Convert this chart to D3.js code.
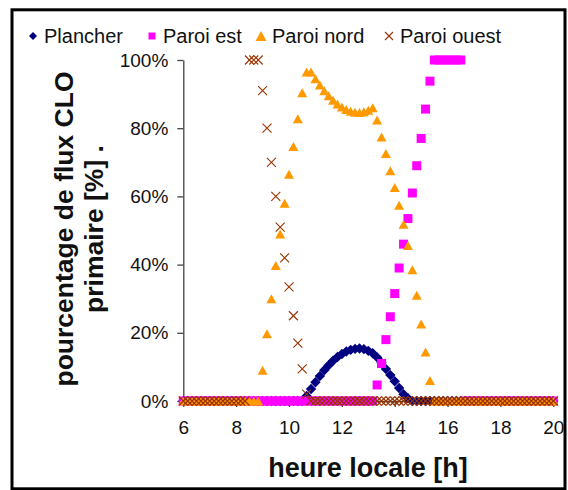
<!DOCTYPE html>
<head>
  <meta charset="utf-8">
  <script src="https://d3js.org/d3.v7.min.js"></script>
  <style>
    body { margin:0; background:#fff; }
    text { font-family: "Liberation Sans", Arial, sans-serif; fill:#111; }
  </style>
</head>
<body>
<script>
// one reading every 10 minutes, from 6h to 20h (85 readings)
const hours = d3.range(85).map(i => 6 + i / 6);

const plancher = [
  0,0,0,0,0,0,0,0,0,0, 0,0,0,0,0,0,0,0,0,0, 0,0,0,0,0,0,0,0,
  1.5,3.5,5.5,7.3,9.0,10.5,11.8,12.9,13.8,14.5,15.0,15.3,15.4,15.2,14.7,14.0,
  12.8,11.2,9.4,7.6,5.8,3.8,2.0,0.8,
  0,0,0,0,0,0,0,0,0,0, 0,0,0,0,0,0,0,0,0,0, 0,0,0,0,0,0,0,0,0,0, 0,0,0
];
const paroiEst = [
  0,0,0,0,0,0,0,0,0,0, 0,0,0,0,0,0,0,0,0,0, 0,0,0,0,0,0,0,0,0,0,
  0,0,0,0,0,0,0,0,0,0, 0,0,0,0,
  4.7,11,18,24.7,31.5,39,46,53.5,61,69,77,85.6,93.8,
  100,100,100,100,100,100,100,
  0,0,0,0,0,0,0,0,0,0, 0,0,0,0,0,0,0,0,0,0, 0
];
const paroiNord = [
  0,0,0,0,0,0,0,0,0,0, 0,0,0,0,0,0,0,0,
  9,19.7,30,39.7,49,58,66.5,74.6,82.8,90.4,96.5,
  96.5,94.5,92.7,91.0,89.5,88.2,87.1,86.2,85.5,85.0,84.7,84.6,84.8,85.3,86.0,
  82.4,77.4,72.6,67.5,62.6,57.4,51.8,45.6,38.5,31,22.6,14.4,6,
  0,0,0,0,0,0,0,0,0,0, 0,0,0,0,0,0,0,0,0,0, 0,0,0,0,0,0,0,0
];
const paroiOuest = [
  0,0,0,0,0,0,0,0,0,0, 0,0,0,0,0,
  100,100,100,
  91,80,70,60,51,42,33.5,25,17,9.4,2,
  0,0,0,0,0,0,0,0,0,0, 0,0,0,0,0,0,0,0,0,0, 0,0,0,0,0,0,0,0,0,0,
  0,0,0,0,0,0,0,0,0,0, 0,0,0,0,0,0,0,0,0,0, 0,0,0,0,0,0
];

const seriesNames = ["Plancher", "Paroi est", "Paroi nord", "Paroi ouest"];
const xTicks = [6, 8, 10, 12, 14, 16, 18, 20];
const yTicks = [0, 20, 40, 60, 80, 100];

const W = 568, H = 490;
const x = d3.scaleLinear().domain([6, 20]).range([183.3, 553.3]);
const y = d3.scaleLinear().domain([0, 100]).range([401, 60]);

const svg = d3.select('body').append('svg')
    .attr('width', W)
    .attr('height', H);

svg.append('rect')
    .attr('x', 12).attr('y', 9.8)
    .attr('width', 553).attr('height', 479)
    .attr('fill', 'none').attr('stroke', '#000').attr('stroke-width', 3);

// marker shapes
const shapes = {
  diamond: r => `M0,${-r}L${r},0L0,${r}L${-r},0Z`,
  square: r => `M${-r},${-r}H${r}V${r}H${-r}Z`,
  triangle: r => `M0,${-r}L${r + 0.5},${r}L${-r - 0.5},${r}Z`,
  cross: r => `M${-r},${-r}L${r},${r}M${-r},${r}L${r},${-r}`
};
const styles = [
  { shape: 'diamond', r: 5.2, fill: '#000080', stroke: 'none' },
  { shape: 'square', r: 4.5, fill: '#ff00ff', stroke: 'none' },
  { shape: 'triangle', r: 4.5, fill: '#ff9900', stroke: 'none' },
  { shape: 'cross', r: 4.5, fill: 'none', stroke: '#993300' }
];
const allSeries = [plancher, paroiEst, paroiNord, paroiOuest];

// axes
const yAxis = svg.append('g')
    .attr('transform', `translate(${x(6)},0)`)
    .call(d3.axisLeft(y).tickValues(yTicks).tickFormat(d => d + '%')
      .tickSize(6).tickSizeOuter(0).tickPadding(9));
const xAxis = svg.append('g')
    .attr('transform', `translate(0,${y(0)})`)
    .call(d3.axisBottom(x).tickValues(xTicks)
      .tickSize(6).tickSizeOuter(0).tickPadding(14));
[xAxis, yAxis].forEach(a => {
  a.selectAll('path, line').attr('stroke', '#444').attr('stroke-width', 1.3);
  a.selectAll('text').attr('font-size', 19)
    .attr('font-family', '"Liberation Sans", Arial, sans-serif').attr('fill', '#111');
});

// series
allSeries.forEach((vals, k) => {
  const st = styles[k];
  svg.append('g').selectAll('path')
    .data(vals)
    .enter()
    .append('path')
    .attr('transform', (d, i) => `translate(${x(hours[i])},${y(d)})`)
    .attr('d', shapes[st.shape](st.r))
    .attr('fill', st.fill)
    .attr('stroke', st.stroke)
    .attr('stroke-width', 1.1);
});

// legend
const legendX = [33, 152, 261, 389];
const leg = svg.append('g');
seriesNames.forEach((name, k) => {
  const st = styles[k];
  const r = k == 1 ? 3.5 : (k == 2 ? 5 : 4);
  leg.append('path')
    .attr('transform', `translate(${legendX[k]},36)`)
    .attr('d', shapes[st.shape](r))
    .attr('fill', st.fill)
    .attr('stroke', st.stroke)
    .attr('stroke-width', 1.1);
  leg.append('text')
    .attr('x', legendX[k] + 11).attr('y', 42.5)
    .attr('font-size', 20)
    .text(name);
});

// axis titles
svg.append('text')
    .attr('x', 368).attr('y', 477)
    .attr('text-anchor', 'middle')
    .attr('font-size', 27).attr('font-weight', 'bold')
    .text('heure locale [h]');

const yt = svg.append('text')
    .attr('transform', 'translate(0,229) rotate(-90)')
    .attr('text-anchor', 'middle')
    .attr('font-size', 26.5).attr('font-weight', 'bold');
yt.append('tspan').attr('x', 0).attr('y', 73).text('pourcentage de flux CLO');
yt.append('tspan').attr('x', 0).attr('y', 103).text('primaire [%] .');
</script>
</body>
